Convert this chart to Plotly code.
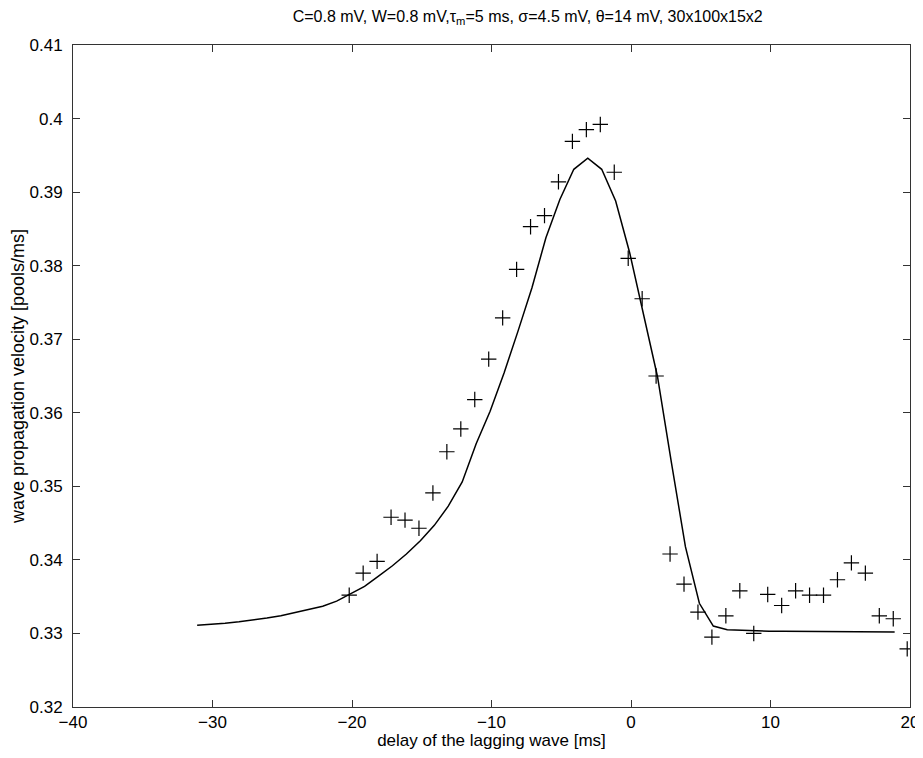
import plotly.graph_objects as go

# simulation points (markers)
sim_x = [-20.2, -19.2, -18.2, -17.2, -16.2, -15.2, -14.2, -13.2, -12.2, -11.2,
         -10.2, -9.2, -8.2, -7.2, -6.2, -5.2, -4.2, -3.2, -2.2, -1.2,
         -0.2, 0.8, 1.8, 2.8, 3.8, 4.8, 5.8, 6.8, 7.8, 8.8,
         9.8, 10.8, 11.8, 12.8, 13.8, 14.8, 15.8, 16.8, 17.8, 18.8, 19.8]
sim_y = [0.3352, 0.3382, 0.3398, 0.3458, 0.3454, 0.3443, 0.3491, 0.3547, 0.3578, 0.3618,
         0.3673, 0.3729, 0.3795, 0.3853, 0.3868, 0.3914, 0.3969, 0.3985, 0.3992, 0.3927,
         0.3810, 0.3755, 0.3650, 0.3408, 0.3367, 0.3329, 0.3295, 0.3324, 0.3358, 0.3300,
         0.3353, 0.3338, 0.3358, 0.3352, 0.3352, 0.3373, 0.3396, 0.3382, 0.3324, 0.3320, 0.3279]

# theory curve
th_x = [-31.1, -30.1, -29.1, -28.1, -27.1, -26.1, -25.1, -24.1, -23.1, -22.1,
        -21.1, -20.1, -19.1, -18.1, -17.1, -16.1, -15.1, -14.1, -13.1, -12.1,
        -11.1, -10.1, -9.1, -8.1, -7.1, -6.1, -5.1, -4.1, -3.1, -2.1,
        -1.1, -0.1, 0.9, 1.9, 2.9, 3.9, 4.9, 5.9, 6.9, 7.9,
        8.9, 9.9, 10.9, 11.9, 12.9, 13.9, 14.9, 15.9, 16.9, 17.9, 18.9]
th_y = [0.3311, 0.3312, 0.3314, 0.3316, 0.3318, 0.3321, 0.3324, 0.3328, 0.3332, 0.3337,
        0.3344, 0.3354, 0.3364, 0.3378, 0.3392, 0.3408, 0.3426, 0.3447, 0.3473, 0.3506,
        0.3558, 0.3602, 0.3654, 0.3711, 0.3770, 0.3838, 0.3890, 0.3931, 0.3946, 0.3931,
        0.3888, 0.3818, 0.3733, 0.3649, 0.3532, 0.3418, 0.3341, 0.3310, 0.3305, 0.3304,
        0.3304, 0.3303, 0.3303, 0.3303, 0.3302, 0.3302, 0.3302, 0.3302, 0.3302, 0.3302, 0.3302]

x_ticks = [-40, -30, -20, -10, 0, 10, 20]
y_ticks = [0.32, 0.33, 0.34, 0.35, 0.36, 0.37, 0.38, 0.39, 0.40, 0.41]
y_tick_text = ["0.32", "0.33", "0.34", "0.35", "0.36", "0.37", "0.38", "0.39", "0.4", "0.41"]

font_family = "Liberation Sans, Arial, Helvetica, sans-serif"

fig = go.Figure()
fig.add_trace(go.Scatter(x=th_x, y=th_y, mode="lines",
                         line=dict(color="black", width=1.5), showlegend=False))
fig.add_trace(go.Scatter(x=sim_x, y=sim_y, mode="markers",
                         marker=dict(symbol="cross-thin", size=11,
                                     line=dict(color="black", width=1.2)),
                         showlegend=False))

axis_common = dict(showline=True, linecolor="#333333", linewidth=1, mirror="ticks",
                   ticks="inside", ticklen=7, tickcolor="#333333", tickwidth=1,
                   showgrid=False, zeroline=False, automargin=False,
                   tickfont=dict(family=font_family, size=17, color="black"))

fig.update_layout(
    width=915, height=742,
    margin=dict(l=65, r=13, t=37, b=43),
    paper_bgcolor="white", plot_bgcolor="white",
    title=dict(text="C=0.8 mV, W=0.8 mV,τ<sub>m</sub>=5 ms, σ=4.5 mV, θ=14 mV, 30x100x15x2",
               x=0.568, xanchor="center", y=0.989, yanchor="middle",
               font=dict(family=font_family, size=16, color="black")),
    xaxis=dict(range=[-40, 20], tickvals=x_ticks,
               title=dict(text="delay of the lagging wave [ms]", standoff=3,
                          font=dict(family=font_family, size=17, color="black")),
               **axis_common),
    yaxis=dict(range=[0.32, 0.41], tickvals=y_ticks, ticktext=y_tick_text,
               ticklabelstandoff=6,
               title=dict(text="wave propagation velocity [pools/ms]", standoff=0,
                          font=dict(family=font_family, size=18, color="black")),
               **axis_common),
)

fig.write_html("out.html")
